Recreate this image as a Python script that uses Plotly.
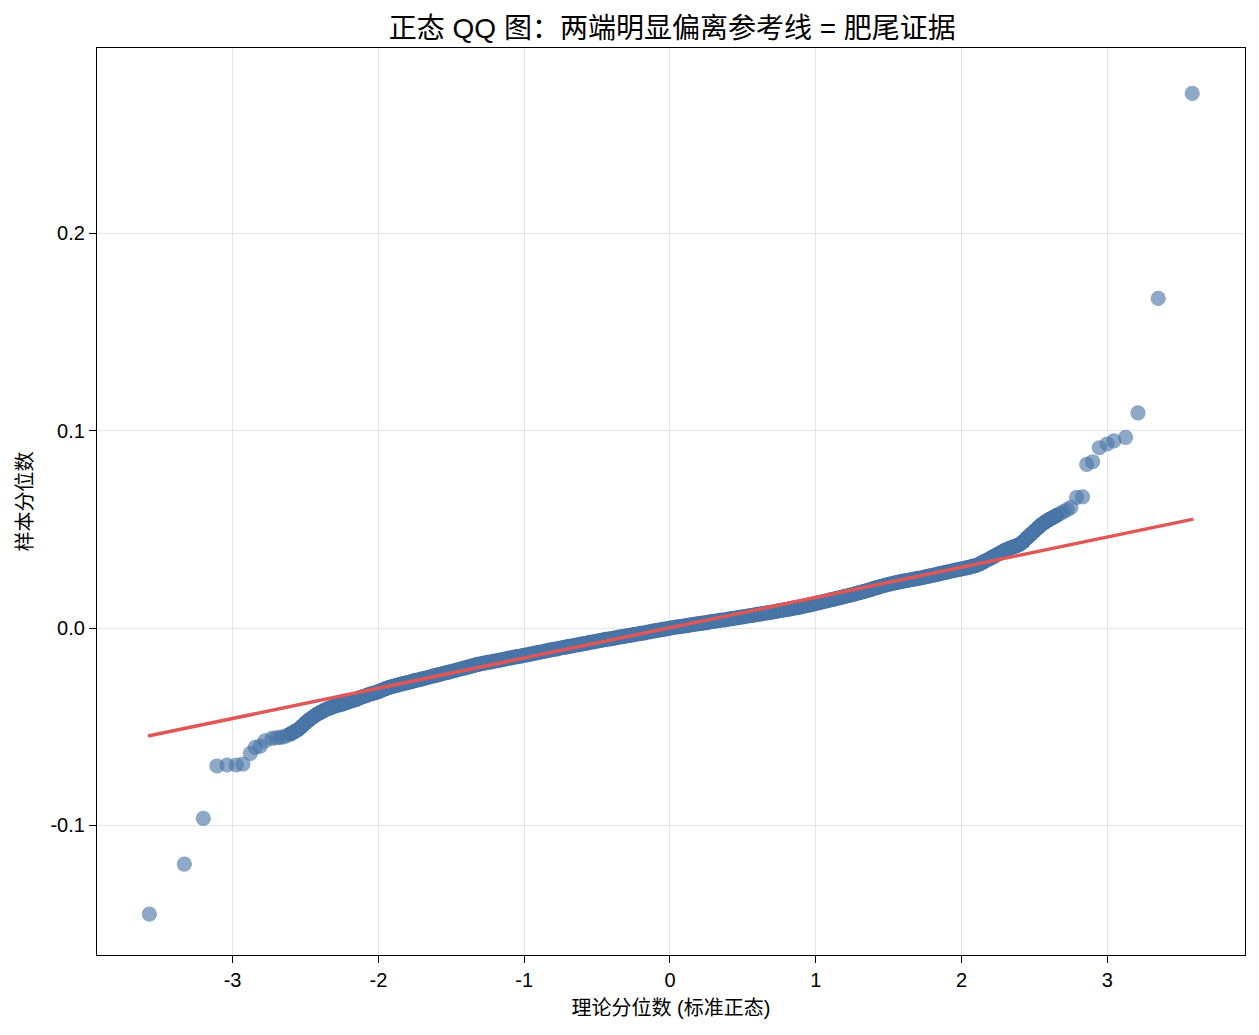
import plotly.graph_objects as go

# ---- Data ----
# Sparse lower tail: theoretical quantile, sample quantile
low_tail_q = [-3.571, -3.331, -3.201, -3.107, -3.038, -2.975, -2.929, -2.878, -2.844, -2.810, -2.776, -2.730]
low_tail_s = [-0.1450, -0.1196, -0.0965, -0.0699, -0.0694, -0.0694, -0.0689, -0.0635, -0.0605, -0.0598, -0.0571, -0.0559]

# Dense body (theoretical quantiles -2.70 ... 2.75)
body_q = [
    -2.700, -2.675, -2.650, -2.625, -2.600, -2.575, -2.550, -2.525, -2.500, -2.475, -2.450, -2.425,
    -2.400, -2.375, -2.350, -2.325, -2.300, -2.275, -2.250, -2.225, -2.200, -2.175, -2.150, -2.125,
    -2.100, -2.075, -2.050, -2.025, -2.000, -1.975, -1.950, -1.925, -1.900, -1.875, -1.850, -1.825,
    -1.800, -1.775, -1.750, -1.725, -1.700, -1.675, -1.650, -1.625, -1.600, -1.575, -1.550, -1.525,
    -1.500, -1.475, -1.450, -1.425, -1.400, -1.375, -1.350, -1.325, -1.300, -1.275, -1.250, -1.225,
    -1.200, -1.175, -1.150, -1.125, -1.100, -1.075, -1.050, -1.025, -1.000, -0.975, -0.950, -0.925,
    -0.900, -0.875, -0.850, -0.825, -0.800, -0.775, -0.750, -0.725, -0.700, -0.675, -0.650, -0.625,
    -0.600, -0.575, -0.550, -0.525, -0.500, -0.475, -0.450, -0.425, -0.400, -0.375, -0.350, -0.325,
    -0.300, -0.275, -0.250, -0.225, -0.200, -0.175, -0.150, -0.125, -0.100, -0.075, -0.050, -0.025,
    0.000, 0.025, 0.050, 0.075, 0.100, 0.125, 0.150, 0.175, 0.200, 0.225, 0.250, 0.275,
    0.300, 0.325, 0.350, 0.375, 0.400, 0.425, 0.450, 0.475, 0.500, 0.525, 0.550, 0.575,
    0.600, 0.625, 0.650, 0.675, 0.700, 0.725, 0.750, 0.775, 0.800, 0.825, 0.850, 0.875,
    0.900, 0.925, 0.950, 0.975, 1.000, 1.025, 1.050, 1.075, 1.100, 1.125, 1.150, 1.175,
    1.200, 1.225, 1.250, 1.275, 1.300, 1.325, 1.350, 1.375, 1.400, 1.425, 1.450, 1.475,
    1.500, 1.525, 1.550, 1.575, 1.600, 1.625, 1.650, 1.675, 1.700, 1.725, 1.750, 1.775,
    1.800, 1.825, 1.850, 1.875, 1.900, 1.925, 1.950, 1.975, 2.000, 2.025, 2.050, 2.075,
    2.100, 2.125, 2.150, 2.175, 2.200, 2.225, 2.250, 2.275, 2.300, 2.325, 2.350, 2.375,
    2.400, 2.425, 2.450, 2.475, 2.500, 2.525, 2.550, 2.575, 2.600, 2.625, 2.650, 2.675,
    2.700, 2.725, 2.750,
]
body_s = [
    -0.0556, -0.0554, -0.0551, -0.0544, -0.0535, -0.0525, -0.0514, -0.0498, -0.0480, -0.0465, -0.0452, -0.0439,
    -0.0428, -0.0418, -0.0410, -0.0403, -0.0396, -0.0390, -0.0385, -0.0379, -0.0373, -0.0367, -0.0361, -0.0353,
    -0.0346, -0.0340, -0.0333, -0.0328, -0.0322, -0.0314, -0.0307, -0.0301, -0.0295, -0.0290, -0.0285, -0.0280,
    -0.0276, -0.0271, -0.0266, -0.0262, -0.0257, -0.0253, -0.0248, -0.0243, -0.0238, -0.0234, -0.0229, -0.0225,
    -0.0220, -0.0215, -0.0210, -0.0205, -0.0200, -0.0195, -0.0190, -0.0185, -0.0181, -0.0178, -0.0174, -0.0171,
    -0.0167, -0.0164, -0.0160, -0.0156, -0.0152, -0.0149, -0.0145, -0.0142, -0.0138, -0.0135, -0.0131, -0.0127,
    -0.0123, -0.0120, -0.0116, -0.0112, -0.0108, -0.0105, -0.0101, -0.0098, -0.0094, -0.0091, -0.0087, -0.0084,
    -0.0080, -0.0077, -0.0073, -0.0070, -0.0066, -0.0063, -0.0059, -0.0056, -0.0053, -0.0050, -0.0046, -0.0043,
    -0.0040, -0.0037, -0.0033, -0.0030, -0.0027, -0.0024, -0.0020, -0.0017, -0.0013, -0.0010, -0.0007, -0.0004,
    0.0000, 0.0003, 0.0006, 0.0008, 0.0011, 0.0014, 0.0017, 0.0020, 0.0023, 0.0025, 0.0028, 0.0031,
    0.0034, 0.0037, 0.0040, 0.0042, 0.0045, 0.0048, 0.0051, 0.0054, 0.0057, 0.0060, 0.0063, 0.0066,
    0.0069, 0.0072, 0.0075, 0.0078, 0.0081, 0.0084, 0.0088, 0.0091, 0.0094, 0.0097, 0.0101, 0.0104,
    0.0108, 0.0112, 0.0116, 0.0120, 0.0125, 0.0129, 0.0134, 0.0138, 0.0143, 0.0147, 0.0152, 0.0156,
    0.0161, 0.0165, 0.0170, 0.0175, 0.0180, 0.0185, 0.0190, 0.0195, 0.0201, 0.0206, 0.0212, 0.0217,
    0.0222, 0.0226, 0.0230, 0.0234, 0.0238, 0.0241, 0.0245, 0.0248, 0.0252, 0.0255, 0.0259, 0.0263,
    0.0267, 0.0271, 0.0276, 0.0280, 0.0284, 0.0288, 0.0292, 0.0296, 0.0300, 0.0304, 0.0308, 0.0313,
    0.0318, 0.0325, 0.0335, 0.0345, 0.0355, 0.0365, 0.0375, 0.0385, 0.0395, 0.0403, 0.0410, 0.0417,
    0.0425, 0.0440, 0.0458, 0.0475, 0.0492, 0.0509, 0.0525, 0.0538, 0.0550, 0.0560, 0.0570, 0.0580,
    0.0590, 0.0600, 0.0612,
]

# Sparse upper tail
high_tail_q = [2.789, 2.830, 2.858, 2.899, 2.945, 2.999, 3.045, 3.125, 3.210, 3.349, 3.582]
high_tail_s = [0.0662, 0.0665, 0.0830, 0.0843, 0.0914, 0.0933, 0.0949, 0.0967, 0.1091, 0.1671, 0.2710]

# Reference line end points (fitted normal line)
ref_x = [-3.58, 3.59]
ref_y = [-0.0547, 0.0552]

x_tick_vals = [-3, -2, -1, 0, 1, 2, 3]
x_tick_text = ["-3", "-2", "-1", "0", "1", "2", "3"]
y_tick_vals = [-0.1, 0.0, 0.1, 0.2]
y_tick_text = ["-0.1", "0.0", "0.1", "0.2"]

# ---- Figure ----
FONT = "Liberation Sans, Arial, Noto Sans CJK SC, sans-serif"

all_q = low_tail_q + body_q + high_tail_q
all_s = low_tail_s + body_s + high_tail_s
# solid where points pile up densely, translucent where they are sparse
opac = [1.0 if -2.6 <= q <= 2.65 else 0.62 for q in all_q]

fig = go.Figure()
fig.add_trace(go.Scatter(
    x=all_q, y=all_s, mode="markers",
    marker=dict(size=14, color="rgb(74,118,168)", opacity=opac,
                line=dict(color="rgb(70,113,163)", width=1.2)),
    showlegend=False,
))
fig.add_trace(go.Scatter(
    x=ref_x, y=ref_y, mode="lines",
    line=dict(color="#e05757", width=3.5),
    showlegend=False,
))

axis_common = dict(
    showline=True, linecolor="black", linewidth=1.2, mirror=True,
    showgrid=True, gridcolor="rgba(0,0,0,0.1)", gridwidth=1.2,
    zeroline=False, ticks="outside", ticklen=7, tickwidth=1.2, tickcolor="black",
    tickfont=dict(size=20, color="black", family=FONT),
)

fig.update_layout(
    width=1259, height=1035,
    margin=dict(l=97, r=14, t=48, b=80),
    paper_bgcolor="white", plot_bgcolor="white",
    font=dict(family=FONT, color="black"),
    title=dict(text="正态 QQ 图：两端明显偏离参考线 = 肥尾证据",
               x=0.534, xref="container", xanchor="center", y=1 - 28 / 1035, yref="container",
               yanchor="middle", font=dict(size=28, color="black", family=FONT)),
    xaxis=dict(range=[-3.93, 3.944], tickvals=x_tick_vals, ticktext=x_tick_text,
               title=dict(text="理论分位数 (标准正态)", font=dict(size=20, family=FONT), standoff=10),
               **axis_common),
    yaxis=dict(range=[-0.1657, 0.294], tickvals=y_tick_vals, ticktext=y_tick_text,
               title=dict(text="样本分位数", font=dict(size=20, family=FONT), standoff=12),
               **axis_common),
)

fig.write_html("out.html")
